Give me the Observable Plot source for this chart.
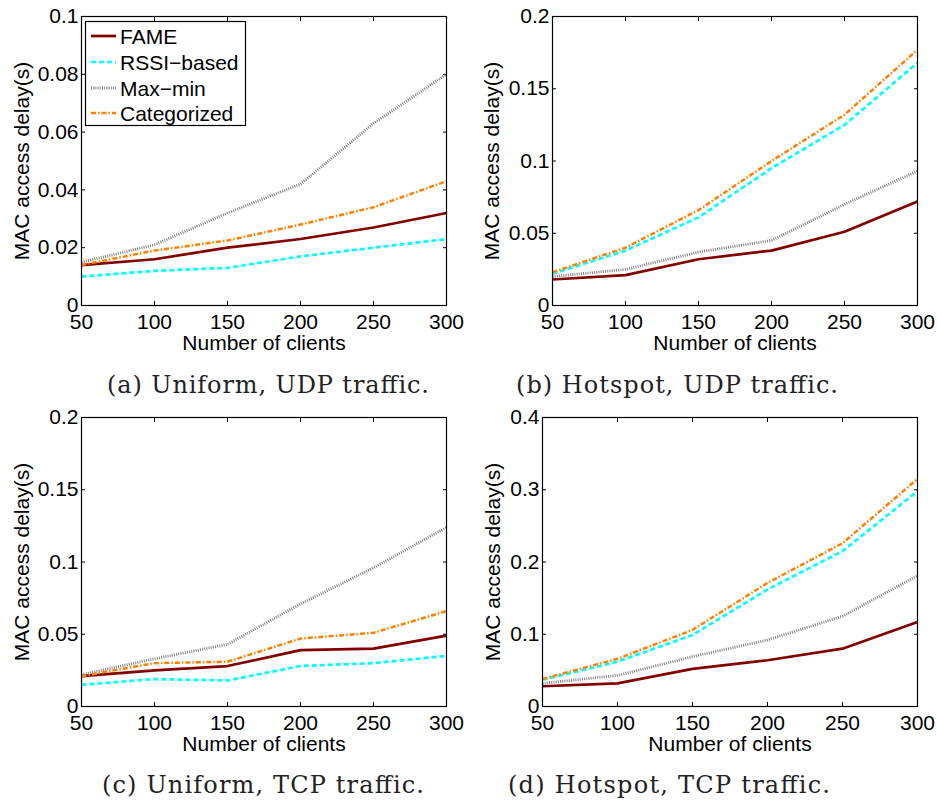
<!DOCTYPE html>
<html><head><meta charset="utf-8">
<script src="https://cdn.jsdelivr.net/npm/d3@7"></script>
<script src="https://cdn.jsdelivr.net/npm/@observablehq/plot@0.6"></script>
<style>
body{margin:0;background:#fff;}
#wrap{position:relative;width:937px;height:803px;overflow:hidden;background:#fff}
.panel{position:absolute}
#overlay{position:absolute;left:0;top:0;pointer-events:none}
</style></head><body><div id="wrap"></div>
<script>
// ---- data ----
const clients = [50, 100, 150, 200, 250, 300];
const seriesNames = ["FAME", "RSSI\u2212based", "Max\u2212min", "Categorized"];
const xTicks = [50, 100, 150, 200, 250, 300];

const uniUdpFame   = [0.014, 0.016, 0.020, 0.023, 0.027, 0.032];
const uniUdpRssi   = [0.010, 0.012, 0.013, 0.017, 0.020, 0.023];
const uniUdpMaxmin = [0.015, 0.021, 0.032, 0.042, 0.063, 0.080];
const uniUdpCat    = [0.014, 0.019, 0.0225, 0.028, 0.034, 0.043];

const hotUdpFame   = [0.018, 0.021, 0.032, 0.038, 0.051, 0.072];
const hotUdpRssi   = [0.022, 0.038, 0.061, 0.095, 0.125, 0.168];
const hotUdpMaxmin = [0.020, 0.025, 0.037, 0.045, 0.070, 0.093];
const hotUdpCat    = [0.023, 0.040, 0.066, 0.100, 0.132, 0.177];

const uniTcpFame   = [0.021, 0.025, 0.028, 0.039, 0.040, 0.049];
const uniTcpRssi   = [0.015, 0.019, 0.018, 0.028, 0.030, 0.035];
const uniTcpMaxmin = [0.022, 0.033, 0.043, 0.071, 0.096, 0.124];
const uniTcpCat    = [0.021, 0.030, 0.031, 0.047, 0.051, 0.066];

const hotTcpFame   = [0.028, 0.032, 0.052, 0.064, 0.080, 0.117];
const hotTcpRssi   = [0.037, 0.062, 0.099, 0.162, 0.215, 0.298];
const hotTcpMaxmin = [0.032, 0.043, 0.069, 0.092, 0.125, 0.181];
const hotTcpCat    = [0.038, 0.066, 0.106, 0.171, 0.226, 0.315];

const yTicksA = [0, 0.02, 0.04, 0.06, 0.08, 0.1];
const yTicksB = [0, 0.05, 0.1, 0.15, 0.2];
const yTicksC = [0, 0.05, 0.1, 0.15, 0.2];
const yTicksD = [0, 0.1, 0.2, 0.3, 0.4];

const captions = ["(a) Uniform, UDP traffic.", "(b) Hotspot, UDP traffic.",
                  "(c) Uniform, TCP traffic.", "(d) Hotspot, TCP traffic."];
const xLabel = "Number of clients";
const yLabel = "MAC access delay(s)";

// ---- styles ----
const styles = [
  {stroke: "#800000", strokeWidth: 2.7, dash: null},
  {stroke: "#00FFFF", strokeWidth: 2.7, dash: "5,3"},
  {stroke: "#808080", strokeWidth: 2.8, dash: "1,1.2"},
  {stroke: "#FF8000", strokeWidth: 2.5, dash: "5,2,1.5,2"}
];
const SANS = "'Liberation Sans', Arial, Helvetica, sans-serif";
const fmt = d => String(+d.toFixed(4));

function panel(cfg) {
  const marks = [
    Plot.axisX({ticks: xTicks, tickSize: 0, tickPadding: 9, fontSize: 21, label: null}),
    Plot.axisY({ticks: cfg.yTicks, tickSize: 0, tickPadding: 3, tickFormat: fmt, fontSize: 21, label: null}),
    Plot.axisX({ticks: xTicks, anchor: "bottom", tickSize: 4, dy: -4, fill: "none", label: null}),
    Plot.axisX({ticks: xTicks, anchor: "top", tickSize: 4, dy: 4, fill: "none", label: null}),
    Plot.axisY({ticks: cfg.yTicks, anchor: "left", tickSize: 4, dx: 4, fill: "none", label: null}),
    Plot.axisY({ticks: cfg.yTicks, anchor: "right", tickSize: 4, dx: -4, fill: "none", label: null})
  ];
  cfg.data.forEach((vals, i) => {
    const rows = clients.map((c, j) => ({x: c, y: vals[j]}));
    const s = styles[i];
    marks.push(Plot.line(rows, {x: "x", y: "y", stroke: s.stroke, strokeWidth: s.strokeWidth,
      strokeDasharray: s.dash, strokeLinejoin: "round", strokeLinecap: "butt"}));
  });
  marks.push(Plot.frame({stroke: "black", strokeWidth: 1.2}));
  marks.push(Plot.text([xLabel], {frameAnchor: "bottom", lineAnchor: "middle", textAnchor: "middle",
    dy: 38, fontSize: 21, fill: "black"}));
  marks.push(Plot.text([yLabel], {frameAnchor: "left", lineAnchor: "middle", textAnchor: "middle",
    rotate: -90, dx: cfg.yLabelDx, fontSize: 21, fill: "black"}));
  const chart = Plot.plot({
    width: cfg.width, height: cfg.height,
    marginLeft: cfg.mL, marginTop: cfg.mT, marginRight: cfg.mR, marginBottom: cfg.mB,
    style: {fontFamily: SANS, fontSize: "21px", color: "black", background: "transparent", overflow: "visible"},
    x: {domain: [50, 300], label: null},
    y: {domain: [0, cfg.yMax], label: null},
    marks
  });
  chart.classList.add("panel");
  chart.style.left = cfg.left + "px";
  chart.style.top = cfg.top + "px";
  return chart;
}

const wrap = document.getElementById("wrap");
const panels = [
  {left: 0, top: 0, width: 470, height: 360, mL: 81, mT: 16, mR: 24, mB: 55, yMax: 0.1, yTicks: yTicksA,
   data: [uniUdpFame, uniUdpRssi, uniUdpMaxmin, uniUdpCat], yLabelDx: -59},
  {left: 470, top: 0, width: 467, height: 360, mL: 82, mT: 16, mR: 20, mB: 55, yMax: 0.2, yTicks: yTicksB,
   data: [hotUdpFame, hotUdpRssi, hotUdpMaxmin, hotUdpCat], yLabelDx: -60},
  {left: 0, top: 400, width: 470, height: 360, mL: 81, mT: 17, mR: 24, mB: 54, yMax: 0.2, yTicks: yTicksC,
   data: [uniTcpFame, uniTcpRssi, uniTcpMaxmin, uniTcpCat], yLabelDx: -59},
  {left: 470, top: 400, width: 467, height: 360, mL: 72, mT: 17, mR: 20, mB: 54, yMax: 0.4, yTicks: yTicksD,
   data: [hotTcpFame, hotTcpRssi, hotTcpMaxmin, hotTcpCat], yLabelDx: -49}
];
panels.forEach(p => wrap.appendChild(panel(p)));

// ---- overlay: legend + captions ----
const svg = d3.select(wrap).append("svg").attr("id", "overlay").attr("width", 937).attr("height", 803);
const lg = svg.append("g");
lg.append("rect").attr("x", 85.5).attr("y", 21.5).attr("width", 160).attr("height", 104)
  .attr("fill", "white").attr("stroke", "black").attr("stroke-width", 1.2);
const rowY = [36, 62, 88, 113];
seriesNames.forEach((name, i) => {
  const s = styles[i];
  lg.append("line").attr("x1", 91).attr("x2", 116).attr("y1", rowY[i]).attr("y2", rowY[i])
    .attr("stroke", s.stroke).attr("stroke-width", s.strokeWidth)
    .attr("stroke-dasharray", s.dash);
  lg.append("text").attr("x", 120).attr("y", rowY[i] + 7.5).text(name)
    .attr("font-family", SANS).attr("font-size", 21).attr("fill", "black");
});
const capPos = [[268, 393], [677, 393], [263, 793], [669, 793]];
captions.forEach((c, i) => {
  svg.append("text").attr("x", capPos[i][0]).attr("y", capPos[i][1]).text(c)
    .attr("text-anchor", "middle").attr("font-family", "'DejaVu Serif', serif")
    .attr("font-size", 24).attr("fill", "#222")
    .attr("textLength", 322).attr("lengthAdjust", "spacing");
});
</script></body></html>
